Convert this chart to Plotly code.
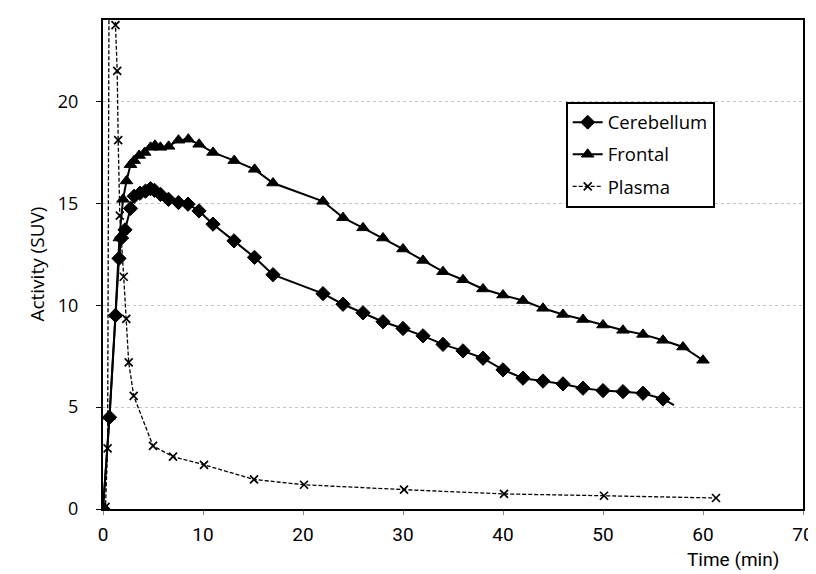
import plotly.graph_objects as go

# ---- data ----
cereb_t = [0, 0.65, 1.25, 1.6, 1.85, 2.2, 2.75, 3.12, 3.7, 4.25, 4.75, 5.15, 5.75, 6.55, 7.55, 8.5,
           9.6, 11.0, 13.1, 15.15, 17.0, 22, 24, 26, 28, 30, 32, 34, 36, 38, 40, 42, 44, 46, 48,
           50, 52, 54, 56, 57.1]
cereb_v = [0, 4.5, 9.5, 12.3, 13.3, 13.7, 14.75, 15.35, 15.5, 15.6, 15.72, 15.64, 15.44, 15.2, 15.04, 14.96,
           14.63, 13.98, 13.16, 12.35, 11.5, 10.57, 10.05, 9.63, 9.19, 8.86, 8.5, 8.08, 7.76, 7.4, 6.83, 6.42,
           6.28, 6.14, 5.93, 5.81, 5.76, 5.68, 5.4, 5.1]

front_t = [0, 0.65, 1.25, 1.64, 2.0, 2.35, 2.75, 3.12, 3.61, 4.17, 4.76, 5.2, 5.74, 6.56, 7.55, 8.53,
           9.61, 11.0, 13.12, 15.16, 17.0, 22, 24, 26, 28, 30, 32, 34, 36, 38, 40, 42, 44, 46, 48,
           50, 52, 54, 56, 58, 60]
front_v = [0, 4.55, 9.56, 13.3, 15.2, 16.1, 16.9, 17.1, 17.35, 17.5, 17.75, 17.85, 17.75, 17.8, 18.1, 18.15,
           17.9, 17.5, 17.1, 16.67, 16.0, 15.1, 14.3, 13.8, 13.3, 12.76, 12.2, 11.65, 11.25, 10.8, 10.5, 10.23,
           9.85, 9.55, 9.3, 9.03, 8.77, 8.57, 8.28, 7.95, 7.3]

plasma_t = [0, 0.25, 0.46, 0.75, 1.25, 1.42, 1.52, 1.68, 2.07, 2.33, 2.57, 3.07, 5.0, 7.0, 10.1, 15.1,
            20.1, 30.1, 40.1, 50.1, 61.3]
plasma_v = [0, 0.1, 2.98, 48.0, 23.75, 21.5, 18.1, 14.4, 11.4, 9.33, 7.2, 5.55, 3.1, 2.57, 2.17, 1.45,
            1.19, 0.95, 0.74, 0.65, 0.54]

x_ticks = [0, 10, 20, 30, 40, 50, 60, 70]
y_ticks = [0, 5, 10, 15, 20]

cereb_sizes = [11] * (len(cereb_t) - 1) + [0]

fig = go.Figure()
fig.add_trace(go.Scatter(
    x=cereb_t, y=cereb_v, name="Cerebellum", mode="lines+markers", legendgroup="a",
    line=dict(color="#000000", width=2),
    marker=dict(symbol="diamond", size=cereb_sizes, color="#000000", opacity=1,
                line=dict(color="#000000", width=1)),
))
fig.add_trace(go.Scatter(
    x=front_t, y=front_v, name="Frontal", mode="lines+markers", legendgroup="b",
    line=dict(color="#000000", width=2),
    marker=dict(symbol="triangle-up", size=11, color="#000000", opacity=1,
                line=dict(color="#000000", width=1)),
))
fig.add_trace(go.Scatter(
    x=plasma_t, y=plasma_v, name="Plasma", mode="lines+markers", legendgroup="c",
    line=dict(color="#000000", width=1.3, dash="4px,2px"),
    marker=dict(symbol="x-thin-open", size=8, line=dict(color="#000000", width=1.7)),
))

tick_font = dict(family="Open Sans, DejaVu Sans, sans-serif", size=18, color="black")
narrow_font = dict(family="Liberation Sans Narrow, Roboto, sans-serif", size=19, color="black")

fig.update_layout(
    width=816, height=574,
    margin=dict(l=95, r=10, t=10, b=73),
    paper_bgcolor="white", plot_bgcolor="white",
    showlegend=True,
    legend=dict(
        x=0.661, y=0.833, xanchor="left", yanchor="top",
        bordercolor="black", borderwidth=2, bgcolor="white",
        font=dict(family="Open Sans, sans-serif", size=18.5, color="black"),
        tracegroupgap=5, itemwidth=30,
    ),
    xaxis=dict(
        range=[0, 70], tickvals=x_ticks, ticktext=[str(v) for v in x_ticks],
        showgrid=False, zeroline=False,
        showline=True, linecolor="black", linewidth=2, mirror=True,
        ticks="outside", ticklen=4, tickcolor="#888", tickwidth=1,
        ticklabelstandoff=3,
        tickfont=narrow_font,
    ),
    yaxis=dict(
        range=[0, 24], tickvals=y_ticks, ticktext=[str(v) for v in y_ticks],
        showgrid=True, gridcolor="#c4c4c4", gridwidth=1, griddash="dot",
        zeroline=False,
        showline=True, linecolor="black", linewidth=2, mirror=True,
        ticks="outside", ticklen=5, tickcolor="black",
        ticklabelstandoff=14,
        tickfont=tick_font,
    ),
    annotations=[
        dict(text="Time (min)", xref="paper", yref="paper", x=0.968, y=-0.104,
             xanchor="right", yanchor="middle", showarrow=False, font=narrow_font),
        dict(text="Activity (SUV)", xref="paper", yref="paper", x=-0.0956, y=0.5,
             xanchor="center", yanchor="middle", textangle=-90, showarrow=False,
             font=dict(family="Open Sans, sans-serif", size=19, color="black")),
    ],
)

fig.write_html("out.html")
